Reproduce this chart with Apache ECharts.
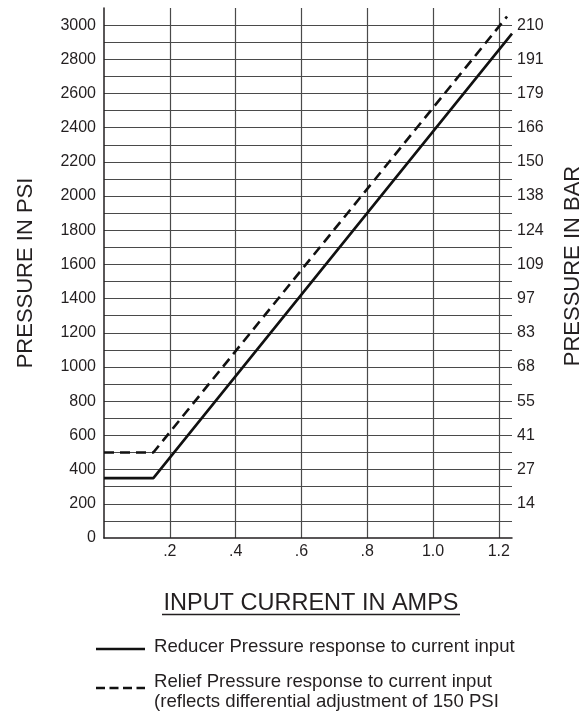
<!DOCTYPE html>
<html>
<head>
<meta charset="utf-8">
<script src="https://cdn.jsdelivr.net/npm/echarts@6/dist/echarts.min.js"></script>
<style>
html,body{margin:0;padding:0;background:#fff;}
#chart{width:585px;height:712px;}
</style>
</head>
<body>
<div id="chart"></div>
<script>
// Data
const reducerAmps = [0, 0.15, 1.24];
const reducerPsi = [350, 350, 2950];
const reliefAmps = [0, 0.15, 1.225];
const reliefPsi = [500, 500, 3050];
const barTickPsi = [200, 400, 600, 800, 1000, 1200, 1400, 1600, 1800, 2000, 2200, 2400, 2600, 2800, 3000];
const barTickLabels = ['14', '27', '41', '55', '68', '83', '97', '109', '124', '138', '150', '166', '179', '191', '210'];
const xTitle = 'INPUT CURRENT IN AMPS';
const yTitleLeft = 'PRESSURE IN PSI';
const yTitleRight = 'PRESSURE IN BAR';
const legendReducer = 'Reducer Pressure response to current input';
const legendRelief1 = 'Relief Pressure response to current input';
const legendRelief2 = '(reflects differential adjustment of 150 PSI';

const barMap = {};
barTickPsi.forEach((p, i) => { barMap[p] = barTickLabels[i]; });

const FONT = 'Liberation Sans, Arial, Helvetica, sans-serif';
const TXT = '#231f20';
const GRID = '#4a4a4a';

const chart = echarts.init(document.getElementById('chart'), null, {renderer: 'canvas'});
chart.setOption({
  backgroundColor: '#fff',
  animation: false,
  grid: {left: 104, right: 73, top: 8, bottom: 174, containLabel: false},
  xAxis: {
    type: 'value', min: 0, max: 1.24, interval: 0.2,
    axisLine: {show: true, lineStyle: {color: '#231f20', width: 1.5}},
    axisTick: {show: false},
    splitLine: {show: true, showMinLine: false, showMaxLine: false, lineStyle: {color: GRID, width: 1.2}},
    axisLabel: {
      show: true, margin: 6, color: TXT, fontFamily: FONT, fontSize: 16,
      showMaxLabel: false,
      formatter: function (v) {
        if (v <= 0.001 || v > 1.21) return '';
        if (v < 0.99) return '.' + Math.round(v * 10);
        return v.toFixed(1);
      }
    }
  },
  yAxis: [
    {
      type: 'value', min: 0, max: 3100, interval: 100, position: 'left',
      axisLine: {show: true, lineStyle: {color: '#231f20', width: 1.5}},
      axisTick: {show: false},
      splitLine: {show: true, showMinLine: false, showMaxLine: false, lineStyle: {color: GRID, width: 1.2}},
      axisLabel: {
        show: true, margin: 8, color: TXT, fontFamily: FONT, fontSize: 16,
        showMaxLabel: false,
        formatter: function (v) { return (v % 200 === 0 && v <= 3000) ? String(v) : ''; }
      }
    },
    {
      type: 'value', min: 0, max: 3100, interval: 100, position: 'right',
      axisLine: {show: false}, axisTick: {show: false}, splitLine: {show: false},
      axisLabel: {
        show: true, margin: 5, color: TXT, fontFamily: FONT, fontSize: 16,
        showMaxLabel: false,
        formatter: function (v) { return barMap[v] || ''; }
      }
    }
  ],
  series: [
    {
      name: 'Reducer', type: 'line', yAxisIndex: 0, symbol: 'none',
      data: reducerAmps.map((a, i) => [a, reducerPsi[i]]),
      lineStyle: {color: '#111', width: 2.6}
    },
    {
      name: 'Relief', type: 'line', yAxisIndex: 0, symbol: 'none',
      data: reliefAmps.map((a, i) => [a, reliefPsi[i]]),
      lineStyle: {color: '#111', width: 2.6, type: [10, 6]}
    }
  ],
  graphic: [
    {type: 'text', x: 26, y: 273, rotation: Math.PI / 2,
     style: {text: yTitleLeft, fill: TXT, font: '22px ' + FONT, textAlign: 'center', textVerticalAlign: 'middle'}},
    {type: 'text', x: 573, y: 266, rotation: Math.PI / 2,
     style: {text: yTitleRight, fill: TXT, font: '22px ' + FONT, textAlign: 'center', textVerticalAlign: 'middle'}},
    {type: 'text', x: 311, y: 604,
     style: {text: xTitle, fill: TXT, font: '23.5px ' + FONT, textAlign: 'center', textVerticalAlign: 'middle'}},
    {type: 'line', shape: {x1: 162, y1: 614.5, x2: 460, y2: 614.5}, style: {stroke: TXT, lineWidth: 1.3}},
    {type: 'line', shape: {x1: 96, y1: 649, x2: 145, y2: 649}, style: {stroke: '#111', lineWidth: 2.6}},
    {type: 'text', x: 154, y: 647,
     style: {text: legendReducer, fill: TXT, font: '18.6px ' + FONT, textAlign: 'left', textVerticalAlign: 'middle'}},
    {type: 'line', shape: {x1: 96, y1: 688, x2: 145, y2: 688}, style: {stroke: '#111', lineWidth: 2.6, lineDash: [9, 4.5]}},
    {type: 'text', x: 154, y: 682,
     style: {text: legendRelief1, fill: TXT, font: '18.6px ' + FONT, textAlign: 'left', textVerticalAlign: 'middle'}},
    {type: 'text', x: 154, y: 702,
     style: {text: legendRelief2, fill: TXT, font: '18.6px ' + FONT, textAlign: 'left', textVerticalAlign: 'middle'}}
  ]
});
</script>
</body>
</html>
